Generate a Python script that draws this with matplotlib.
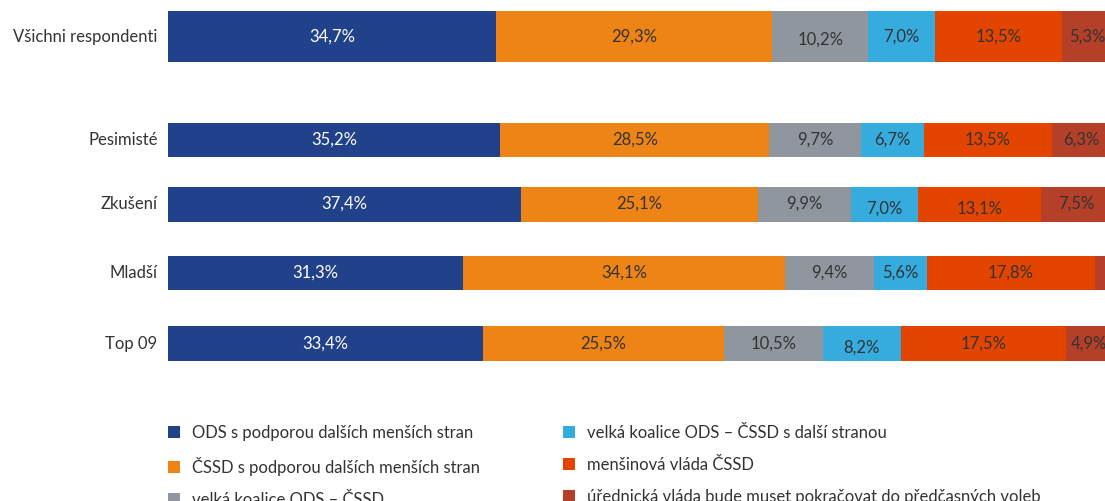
import matplotlib
matplotlib.use("Agg")
import matplotlib.pyplot as plt
from matplotlib.patches import Patch

plt.rcParams['font.family'] = ['Lato', 'DejaVu Sans']

# data
categories = ["Všichni respondenti", "Pesimisté", "Zkušení", "Mladší", "Top 09"]
series_names = [
    "ODS s podporou dalších menších stran",
    "ČSSD s podporou dalších menších stran",
    "velká koalice ODS – ČSSD",
    "velká koalice ODS – ČSSD s další stranou",
    "menšinová vláda ČSSD",
    "úřednická vláda bude muset pokračovat do předčasných voleb",
]
ods_mensi    = [34.7, 35.2, 37.4, 31.3, 33.4]
cssd_mensi   = [29.3, 28.5, 25.1, 34.1, 25.5]
velka        = [10.2,  9.7,  9.9,  9.4, 10.5]
velka_dalsi  = [ 7.0,  6.7,  7.0,  5.6,  8.2]
mensinova    = [13.5, 13.5, 13.1, 17.8, 17.5]
urednicka    = [ 5.3,  6.3,  7.5,  1.8,  4.9]
series = [ods_mensi, cssd_mensi, velka, velka_dalsi, mensinova, urednicka]

colors = ['#21418A', '#EE8416', '#90969D', '#35ABDE', '#E34500', '#B5402A']
text_colors = ['white', '#333333', '#333333', '#333333', '#333333', '#333333']

# layout (pixel rows in a 501 px tall figure)
row_y = [36.5, 140, 204, 273, 343.5]
row_h = [51, 34, 35, 34, 35]
# a few labels sit a little lower in the original
label_dy = {(0, 2): 3, (2, 3): 5, (2, 4): 5, (4, 3): 4}
fs = 12

fig = plt.figure(figsize=(11.05, 5.01), dpi=100)
ax = fig.add_axes([168 / 1105, 0, 937 / 1105, 1])
ax.set_xlim(0, 937 / 9.44)
ax.set_ylim(501, 0)
ax.axis('off')

left = [0.0] * len(categories)
for s, vals in enumerate(series):
    ax.barh(row_y, vals, height=row_h, left=left, color=colors[s], linewidth=0)
    for i, v in enumerate(vals):
        if v >= 2:
            ax.text(left[i] + v / 2, row_y[i] + label_dy.get((i, s), 0),
                    f"{v:.1f}%".replace('.', ','), ha='center', va='center',
                    fontsize=fs, color=text_colors[s])
        left[i] += v

for i, c in enumerate(categories):
    ax.text(-1.1, row_y[i], c, ha='right', va='center', fontsize=fs,
            color='#333333', clip_on=False)

handles = [Patch(facecolor=colors[s], edgecolor='none') for s in range(len(series))]
fig.legend(handles, series_names, loc='upper left', ncol=2, frameon=False,
           bbox_to_anchor=(168 / 1105, (501 - 425) / 501), fontsize=fs,
           handlelength=0.72, handleheight=0.72, handletextpad=0.72,
           labelspacing=0.95, columnspacing=5.0, borderpad=0, borderaxespad=0,
           labelcolor='#333333')

fig.savefig("out.png", dpi=100)
